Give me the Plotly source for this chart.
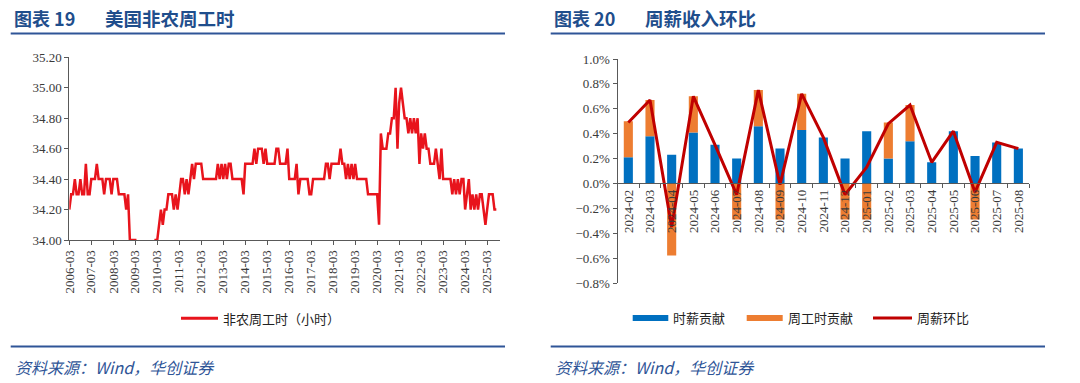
import plotly.graph_objects as go
import pandas as pd

# ---------------- Data ----------------
# US nonfarm average weekly hours, monthly from 2006-03 to 2025-08
hours = [
    34.2, 34.3, 34.3, 34.4, 34.3, 34.3, 34.4, 34.3, 34.3, 34.5, 34.3, 34.3,
    34.4, 34.4, 34.4, 34.5, 34.4, 34.4, 34.4, 34.3, 34.4, 34.4, 34.4, 34.3,
    34.4, 34.4, 34.4, 34.3, 34.3, 34.3, 34.3, 34.2, 34.3, 34.0, 34.0, 34.0,
    34.0, 33.9, 33.8, 33.8, 33.7, 33.8, 33.8, 33.7, 33.8, 33.8, 33.9, 34.0,
    34.0, 34.1, 34.2, 34.1, 34.2, 34.2, 34.3, 34.3, 34.3, 34.2, 34.3, 34.2,
    34.3, 34.4, 34.4, 34.3, 34.4, 34.3, 34.4, 34.5, 34.4, 34.5, 34.5, 34.5,
    34.5, 34.4, 34.4, 34.4, 34.4, 34.4, 34.4, 34.4, 34.4, 34.5, 34.4, 34.5,
    34.4, 34.5, 34.4, 34.5, 34.5, 34.4, 34.4, 34.4, 34.4, 34.4, 34.4, 34.3,
    34.5, 34.5, 34.5, 34.5, 34.5, 34.6, 34.5, 34.6, 34.6, 34.6, 34.5, 34.6,
    34.5, 34.5, 34.5, 34.5, 34.5, 34.6, 34.6, 34.5, 34.5, 34.5, 34.5, 34.6,
    34.4, 34.4, 34.4, 34.4, 34.5, 34.3, 34.4, 34.4, 34.4, 34.4, 34.4, 34.3,
    34.3, 34.4, 34.4, 34.4, 34.4, 34.4, 34.4, 34.4, 34.5, 34.5, 34.4, 34.5,
    34.5, 34.5, 34.5, 34.5, 34.6, 34.5, 34.5, 34.4, 34.5, 34.4, 34.5, 34.4,
    34.5, 34.4, 34.4, 34.4, 34.4, 34.4, 34.4, 34.3, 34.3, 34.3, 34.3, 34.3,
    34.3, 34.1, 34.7, 34.6, 34.6, 34.6, 34.7, 34.7, 34.8, 34.8, 35.0, 34.6,
    34.9, 35.0, 34.9, 34.8, 34.8, 34.7, 34.8, 34.7, 34.8, 34.7, 34.8, 34.5,
    34.7, 34.6, 34.7, 34.6, 34.6, 34.5, 34.5, 34.5, 34.6, 34.5, 34.4, 34.6,
    34.4, 34.4, 34.4, 34.4, 34.4, 34.3, 34.4, 34.3, 34.4, 34.3, 34.4, 34.4,
    34.2, 34.3, 34.4, 34.2, 34.3, 34.2, 34.3, 34.2, 34.3, 34.3, 34.2, 34.1,
    34.2, 34.3, 34.3, 34.3, 34.2, 34.2,
]
hours_months = pd.date_range("2006-03-01", periods=len(hours), freq="MS")
hours_tick_labels = [
    "2006-03", "2007-03", "2008-03", "2009-03", "2010-03", "2011-03", "2012-03",
    "2013-03", "2014-03", "2015-03", "2016-03", "2017-03", "2018-03", "2019-03",
    "2020-03", "2021-03", "2022-03", "2023-03", "2024-03", "2025-03",
]

wage_months = [
    "2024-02", "2024-03", "2024-04", "2024-05", "2024-06", "2024-07", "2024-08",
    "2024-09", "2024-10", "2024-11", "2024-12", "2025-01", "2025-02", "2025-03",
    "2025-04", "2025-05", "2025-06", "2025-07", "2025-08",
]
hourly_wage_contrib = [0.21, 0.38, 0.23, 0.41, 0.31, 0.20, 0.46, 0.28, 0.43, 0.37,
                       0.20, 0.42, 0.20, 0.34, 0.17, 0.42, 0.22, 0.33, 0.28]
weekly_hours_contrib = [0.29, 0.29, -0.58, 0.29, 0.0, -0.29, 0.29, -0.29, 0.29, 0.0,
                        -0.29, -0.29, 0.29, 0.29, 0.0, 0.0, -0.29, 0.0, 0.0]
weekly_pay_mom = [0.49, 0.67, -0.35, 0.70, 0.31, -0.09, 0.75, -0.01, 0.72, 0.37,
                  -0.09, 0.13, 0.48, 0.63, 0.17, 0.42, -0.07, 0.33, 0.28]

# ---------------- Styling helpers ----------------
W, H = 1080, 383


def fx(x):
    return x / W


def fy(y):
    return 1 - y / H


CJK = "Noto Sans CJK SC"
SERIF = "Liberation Serif, Times New Roman, serif"
AXIS_COLOR = "#595959"
TITLE_BLUE = "#1F4E8C"
LINE_BLUE = "#2F5597"

fig = go.Figure()

fig.add_trace(go.Scatter(
    x=hours_months, y=hours, mode="lines", name="非农周工时（小时）",
    line=dict(color="#E8141C", width=2.5), xaxis="x", yaxis="y",
))
fig.add_trace(go.Bar(
    x=wage_months, y=hourly_wage_contrib, name="时薪贡献",
    marker=dict(color="#0070C0", line=dict(width=0)), width=0.42,
    xaxis="x2", yaxis="y2",
))
fig.add_trace(go.Bar(
    x=wage_months, y=weekly_hours_contrib, name="周工时贡献",
    marker=dict(color="#ED7D31", line=dict(width=0)), width=0.42,
    xaxis="x2", yaxis="y2",
))
fig.add_trace(go.Scatter(
    x=wage_months, y=weekly_pay_mom, mode="lines", name="周薪环比",
    line=dict(color="#C00000", width=3), xaxis="x2", yaxis="y2",
))

tickfont = dict(family=SERIF, size=13, color="#3a3a3a")

left_x0, left_x1 = 69.3, 500
left_ytop, left_ybot = 57.3, 240
right_x0, right_x1 = 617.5, 1029.2
right_ytop, right_ybot = 59, 283
zero_y = right_ytop + (right_ybot - right_ytop) * 1.0 / 1.8

common_axis = dict(
    ticks="outside", ticklen=4, tickcolor=AXIS_COLOR,
    showline=True, linecolor=AXIS_COLOR, linewidth=1,
    showgrid=False, zeroline=False, tickfont=tickfont, automargin=False,
)

fig.update_layout(
    template="none",
    width=W, height=H,
    margin=dict(l=0, r=0, t=0, b=0, pad=0, autoexpand=False),
    paper_bgcolor="white", plot_bgcolor="white",
    showlegend=False,
    barmode="relative",
    xaxis=dict(
        domain=[fx(left_x0), fx(left_x1)], anchor="y", type="date",
        range=["2006-03-01", "2025-10-01"],
        tickvals=[l + "-01" for l in hours_tick_labels], ticktext=hours_tick_labels,
        tickangle=-90, **common_axis,
    ),
    yaxis=dict(
        domain=[fy(left_ybot), fy(left_ytop)], anchor="x",
        range=[34.0, 35.2], dtick=0.2, tickformat=".2f", **common_axis,
    ),
    xaxis2=dict(
        domain=[fx(right_x0), fx(right_x1)], anchor="free", position=fy(zero_y),
        type="category", range=[-0.5, 18.5],
        tickangle=-90, tickson="boundaries", **common_axis,
    ),
    yaxis2=dict(
        domain=[fy(right_ybot), fy(right_ytop)], anchor="x2",
        range=[-0.8, 1.0], dtick=0.2, tickformat=".1f", ticksuffix="%",
        **common_axis,
    ),
)

shapes = []
annotations = []

for x0, x1, num, title, title_x in [
    (10.7, 505, "图表 19", "美国非农周工时", 103),
    (550.7, 1045, "图表 20", "周薪收入环比", 643),
]:
    annotations.append(dict(
        x=fx(x0 + 1.5), y=fy(18), xref="paper", yref="paper", xanchor="left",
        yanchor="middle", text=num, showarrow=False,
        font=dict(family=CJK, size=18, color=TITLE_BLUE, weight="bold"),
    ))
    annotations.append(dict(
        x=fx(title_x), y=fy(18), xref="paper", yref="paper", xanchor="left",
        yanchor="middle", text=title, showarrow=False,
        font=dict(family=CJK, size=18.5, color=TITLE_BLUE, weight="bold"),
    ))
    shapes.append(dict(type="line", xref="paper", yref="paper",
                       x0=fx(x0), x1=fx(x1), y0=fy(33.5), y1=fy(33.5),
                       line=dict(color=LINE_BLUE, width=2)))
    shapes.append(dict(type="line", xref="paper", yref="paper",
                       x0=fx(x0), x1=fx(x1), y0=fy(346.5), y1=fy(346.5),
                       line=dict(color=LINE_BLUE, width=2)))
    annotations.append(dict(
        x=fx(x0 + 2), y=fy(367), xref="paper", yref="paper", xanchor="left",
        yanchor="middle", text="资料来源：Wind，华创证券", showarrow=False,
        font=dict(family=CJK, size=16, color=LINE_BLUE, style="italic"),
    ))

# Left legend
shapes.append(dict(type="line", xref="paper", yref="paper",
                   x0=fx(181), x1=fx(218), y0=fy(318.3), y1=fy(318.3),
                   line=dict(color="#E8141C", width=3)))
annotations.append(dict(
    x=fx(221), y=fy(318), xref="paper", yref="paper", xanchor="left",
    yanchor="middle", text="非农周工时（小时）", showarrow=False,
    font=dict(family=CJK, size=13, color="#222222"),
))

# Right legend
legend_items = [
    ("rect", "#0070C0", 632.7, 668.3, 671, "时薪贡献"),
    ("rect", "#ED7D31", 746.7, 782.7, 786, "周工时贡献"),
    ("line", "#C00000", 873, 912, 915, "周薪环比"),
]
for kind, color, a, b, tx, label in legend_items:
    if kind == "rect":
        shapes.append(dict(type="rect", xref="paper", yref="paper",
                           x0=fx(a), x1=fx(b), y0=fy(321), y1=fy(315),
                           fillcolor=color, line=dict(width=0)))
    else:
        shapes.append(dict(type="line", xref="paper", yref="paper",
                           x0=fx(a), x1=fx(b), y0=fy(318), y1=fy(318),
                           line=dict(color=color, width=3)))
    annotations.append(dict(
        x=fx(tx), y=fy(317.5), xref="paper", yref="paper", xanchor="left",
        yanchor="middle", text=label, showarrow=False,
        font=dict(family=CJK, size=13, color="#222222"),
    ))

fig.update_layout(shapes=shapes, annotations=annotations)

fig.write_html(
    "out.html",
    config={"displayModeBar": False},
    post_script="document.body.style.margin='0px';document.body.style.padding='0px';",
)
